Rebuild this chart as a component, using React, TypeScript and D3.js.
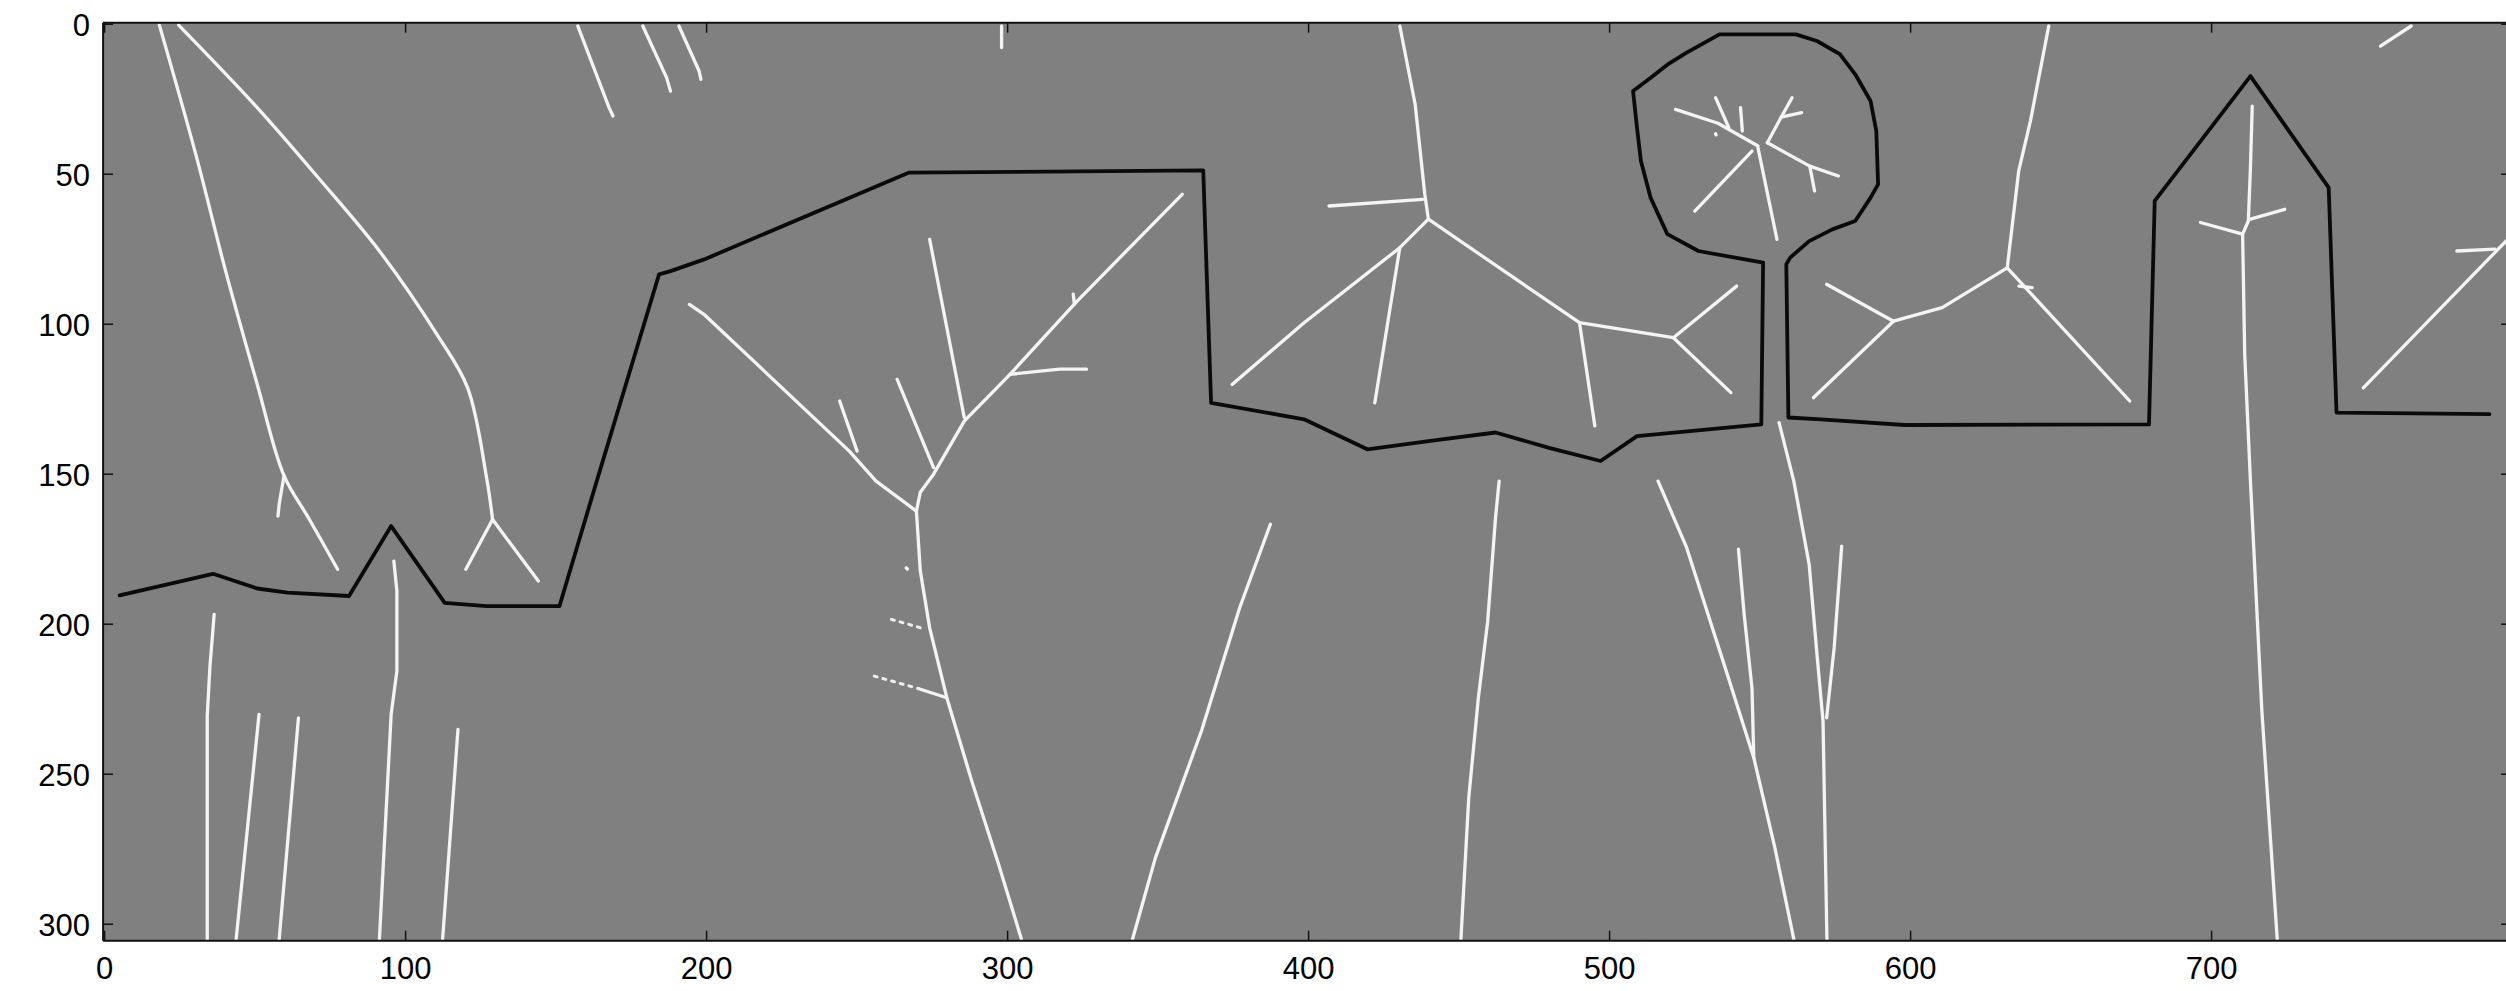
import React from "react";
import * as d3 from "d3";

type P = [number, number];

// ---- tick labels ----
const xTicks = [0, 100, 200, 300, 400, 500, 600, 700];
const yTicks = [0, 50, 100, 150, 200, 250, 300];

// ---- image extent (pixels) ----
const imgWidth = 800;
const imgHeight = 306;

// ---- black outline (skyline) ----
const blackOutline: P[] = [
  [5, 190.4], [36, 183.2], [50.7, 188.1], [60.8, 189.5], [81.2, 190.6], [95.2, 167.3],
  [113, 192.9], [127, 194], [151.1, 194], [163.5, 152.3], [176.5, 109], [184.2, 83.4],
  [188, 82.3], [199.2, 78.4], [267.1, 49.5], [365, 48.7], [365.7, 70], [367.6, 126.2],
  [398.5, 131.7], [419.5, 141.7], [440.5, 138.9], [462.1, 136.1], [479.9, 141.2],
  [497, 145.6], [509.1, 137.3], [550.4, 133.4], [551, 79.5], [529.5, 75.6], [519.2, 70],
  [513.6, 57.8], [510.4, 45.6], [509.1, 34.5], [507.8, 22.3], [512.9, 18.4], [519.3, 13.4],
  [525.6, 9.5], [536.5, 3.4], [561.9, 3.4], [568.9, 5.6], [576.5, 10], [581.6, 16.7],
  [586.7, 25.6], [588.6, 35.6], [589.2, 53.4], [586.7, 57.8], [581.6, 65.6], [574, 68.4],
  [566.3, 72.3], [560, 77.8], [558.7, 80], [559.4, 131.1], [570.2, 131.7], [598, 133.6],
  [679.2, 133.4], [681.1, 58.9], [712.9, 17.3], [738.9, 54.5], [741.5, 129.5], [792.3, 130],
];

// ---- white strokes: left grass / leaves (smooth curves) ----
const leafA: P[] = [[18.2, 0.3], [30.3, 43.4], [40.5, 83.4], [50.7, 120], [59.6, 150.5], [68, 165], [77.4, 181.7]];
const leafB: P[] = [[24.6, 0.3], [50.7, 27.8], [71.0, 51.2], [91.3, 75.6], [110.4, 103.4], [120.6, 121.2], [126.9, 151.2], [128.9, 165.1]];

// ---- other white strokes ----
const leafAStub: P[] = [[59.6, 150.5], [58, 160], [57.6, 164]];
const leafBLeft: P[] = [[128.9, 165.1], [120, 181.7]];
const leafBRight: P[] = [[128.9, 165.1], [144.1, 185.6]];
const topShortC: P[] = [[157.2, 0.6], [167.6, 27.8], [168.9, 30.6]];
const topShortD: P[] = [[178.8, 0.6], [186.7, 17.8], [188, 22.3]];
const topShortE: P[] = [[190.8, 0.6], [197.5, 15.6], [198.1, 18.4]];
const topStub: P[] = [[298, 0.6], [298, 7.8]];

// ---- bottom-left verticals ----
const grass1: P[] = [[36.4, 196.7], [35, 214], [34.1, 230.6], [34.1, 305]];
const grass2: P[] = [[51.3, 230.1], [43.7, 305]];
const grass3: P[] = [[64.4, 231.2], [58, 305]];
const grass4: P[] = [[96.1, 179], [97.1, 189], [97.1, 215.6], [95.2, 230], [91.3, 305]];
const grass5: P[] = [[117.4, 235.1], [112.3, 305]];

// ---- big tree in middle-left ----
const treeLeft: P[] = [[194.3, 93.4], [199.1, 96.7], [247.4, 142.3], [256.3, 152.3], [269.7, 162.3]];
const treeSub1: P[] = [[244.2, 125.6], [250, 142.3]];
const treeSub2: P[] = [[263.3, 118.4], [275.4, 147.8]];
const treeSub3: P[] = [[274.1, 71.7], [285.6, 131.1]];
const treeRight: P[] = [[358, 56.7], [323.1, 92.3], [300.8, 116.7], [285.6, 132.3], [275.4, 150], [271, 156], [269.7, 162.3]];
const treeTick: P[] = [[321.8, 90], [322.2, 93.4]];
const treeHoriz: P[] = [[300.8, 116.7], [317.3, 115], [326.2, 115]];
const treeTrunk: P[] = [[269.7, 162.3], [271, 182.3], [274.1, 201.2], [279.8, 224.5], [288.1, 252.3], [297, 280], [304.6, 305]];
const trunkSideSolid: P[] = [[270.5, 221.5], [279.8, 224.5]];
const trunkSideDots1: P[] = [[261.4, 198.4], [272.8, 201.7]];
const trunkSideDots2: P[] = [[255.7, 217.3], [270.5, 221.5]];
const trunkDot: P[] = [[266.3, 181.2], [266.7, 181.6]];
const slantRight: P[] = [[387.3, 166.7], [377.1, 194.5], [364.4, 235.6], [349.1, 277.9], [341.5, 305]];

// ---- tree in middle ----
const midTop: P[] = [[430.3, 0.6], [435.4, 26.7], [438.6, 56.7], [439.8, 65]];
const midHoriz: P[] = [[406.8, 60.6], [437.9, 58.4]];
const midLeft: P[] = [[439.8, 65], [430.3, 74.5], [398.5, 99.5], [374.6, 120.1]];
const midLeftDown: P[] = [[430.3, 74.5], [422, 126.2]];
const midRight: P[] = [[439.8, 65], [490, 99.5], [521.2, 104.5]];
const midRightUp: P[] = [[521.2, 104.5], [542.2, 87.3]];
const midRightDown: P[] = [[521.2, 104.5], [540.3, 122.8]];
const midDown: P[] = [[490, 99.5], [495.1, 133.9]];

// ---- tree inside the circle ----
const crownA: P[] = [[521.9, 28.4], [536, 33], [549.3, 40.6]];
const crownB: P[] = [[535.2, 24.5], [539.6, 34.5]];
const crownC: P[] = [[543.5, 27.8], [544.1, 35.6]];
const crownD: P[] = [[552.4, 39.5], [557, 31], [560.6, 24.5]];
const crownDFork: P[] = [[557, 31], [563.8, 29.5]];
const crownE: P[] = [[547.3, 42.3], [528.3, 62.3]];
const crownF: P[] = [[549.3, 41.2], [555.6, 71.7]];
const crownG: P[] = [[552.4, 39.5], [566.5, 47.3], [576, 50.6]];
const crownGFork: P[] = [[566.5, 47.3], [568.1, 55.6]];
const crownDot: P[] = [[535.2, 36.5], [535.4, 36.9]];

// ---- right-middle tree ----
const rightTreeTop: P[] = [[645.9, 0.6], [639.8, 32.3], [635.9, 49], [632.1, 81.2]];
const rightTreeLeft: P[] = [[632.1, 81.2], [610.5, 94.5], [594.3, 99]];
const rightTreeUp: P[] = [[594.3, 99], [572.1, 86.7]];
const rightTreeDown: P[] = [[594.3, 99], [567.7, 124.5]];
const rightTreeRight: P[] = [[632.1, 81.2], [672.8, 125.6]];
const rightTreeStub: P[] = [[636, 87.3], [640.4, 87.8]];

// ---- lower middle strokes ----
const lowL1: P[] = [[463.3, 152.3], [462.1, 164.5], [459.5, 199], [456.4, 224.5], [453.2, 257.9], [450.6, 305]];
const lowL2: P[] = [[516.1, 152.3], [525.6, 174.5], [538.4, 214.5], [547.9, 244.5], [554.9, 274.5], [561.2, 305]];
const lowL3: P[] = [[542.8, 175], [544.7, 196.7], [547.3, 221.2], [547.9, 244.5]];
const lowL4: P[] = [[556.3, 132.8], [561.2, 152.3], [566.3, 180.1], [568.9, 210.1], [570.9, 232.3], [572.2, 305]];
const lowL5: P[] = [[577.1, 174], [576.5, 182.3], [574.6, 207.9], [572.1, 231.2]];

// ---- house / spire on the right ----
const spire: P[] = [[713.5, 27.3], [712.9, 47.8], [712.2, 65.6], [710.3, 70], [711, 110], [712.9, 152.3], [716.7, 229], [721.8, 305]];
const spireLeft: P[] = [[710.3, 70], [696.3, 66.1]];
const spireRight: P[] = [[712.9, 65], [724.3, 61.7]];
const farRight: P[] = [[750.4, 121.2], [786, 84.5], [800, 70]];
const farRightHoriz: P[] = [[781.5, 75.6], [794.2, 75]];
const farTop: P[] = [[756.1, 7.3], [766.3, 0.6]];

const curvedStrokes: P[][] = [leafA, leafB];
const whiteStrokes: P[][] = [
  leafAStub, leafBLeft, leafBRight, topShortC, topShortD, topShortE, topStub,
  grass1, grass2, grass3, grass4, grass5,
  treeLeft, treeSub1, treeSub2, treeSub3, treeRight, treeTick, treeHoriz, treeTrunk, trunkSideSolid, trunkDot, slantRight,
  midTop, midHoriz, midLeft, midLeftDown, midRight, midRightUp, midRightDown, midDown,
  crownA, crownB, crownC, crownD, crownDFork, crownE, crownF, crownG, crownGFork, crownDot,
  rightTreeTop, rightTreeLeft, rightTreeUp, rightTreeDown, rightTreeRight, rightTreeStub,
  lowL1, lowL2, lowL3, lowL4, lowL5,
  spire, spireLeft, spireRight, farRight, farRightHoriz, farTop,
];
const dottedStrokes: P[][] = [trunkSideDots1, trunkSideDots2];

export default function App() {
  const W = 2506;
  const H = 991;
  const x = d3.scaleLinear().domain([-0.5, imgWidth - 0.5]).range([103.1, 103.1 + imgWidth * 3.01]);
  const y = d3.scaleLinear().domain([-0.5, imgHeight - 0.5]).range([22.7, 22.7 + imgHeight * 3.0]);
  const line = d3.line<P>().x((d) => x(d[0])).y((d) => y(d[1]));
  const curve = d3.line<P>().x((d) => x(d[0])).y((d) => y(d[1])).curve(d3.curveCatmullRom.alpha(0.5));
  const x0 = x(-0.5), x1 = x(imgWidth - 0.5), y0 = y(-0.5), y1 = y(imgHeight - 0.5);
  const font = "'Liberation Sans', Arial, Helvetica, sans-serif";
  const tl = 10;
  const white = { fill: "none", stroke: "#f4f4f4", strokeWidth: 3.3, strokeLinejoin: "round" as const, strokeLinecap: "round" as const };
  return (
    <svg width={W} height={H} style={{ position: "fixed", left: 0, top: 0, background: "#fff" }}>
      <defs>
        <clipPath id="img">
          <rect x={x0} y={y0} width={x1 - x0} height={y1 - y0} />
        </clipPath>
      </defs>
      <rect x={0} y={0} width={W} height={H} fill="#fff" />
      <g clipPath="url(#img)">
        <rect x={x0} y={y0} width={x1 - x0} height={y1 - y0} fill="#808080" />
        <path d={line(blackOutline) || ""} fill="none" stroke="#0a0a0a" strokeWidth={3.8} strokeLinejoin="round" strokeLinecap="round" />
        {curvedStrokes.map((s, i) => (
          <path key={"c" + i} d={curve(s) || ""} {...white} />
        ))}
        {whiteStrokes.map((s, i) => (
          <path key={i} d={line(s) || ""} {...white} />
        ))}
        {dottedStrokes.map((s, i) => (
          <path key={"d" + i} d={line(s) || ""} fill="none" stroke="#eeeeee" strokeWidth={3} strokeDasharray="3 6" strokeLinecap="round" />
        ))}
      </g>
      {/* frame */}
      <g stroke="#111" strokeWidth={2} fill="none">
        <line x1={x0} y1={y0} x2={x1} y2={y0} />
        <line x1={x0} y1={y1} x2={x1} y2={y1} />
        <line x1={x0} y1={y0} x2={x0} y2={y1} />
        <line x1={x1} y1={y0} x2={x1} y2={y1} />
      </g>
      <g stroke="#111" strokeWidth={1.5}>
        {xTicks.map((t) => (
          <g key={"xt" + t}>
            <line x1={x(t)} x2={x(t)} y1={y1} y2={y1 - tl} />
            <line x1={x(t)} x2={x(t)} y1={y0} y2={y0 + tl} />
          </g>
        ))}
        {yTicks.map((t) => (
          <g key={"yt" + t}>
            <line x1={x0} x2={x0 + tl} y1={y(t)} y2={y(t)} />
            <line x1={x1} x2={x1 - tl} y1={y(t)} y2={y(t)} />
          </g>
        ))}
      </g>
      <g fontFamily={font} fontSize={31} fill="#000">
        {xTicks.map((t) => (
          <text key={"xl" + t} x={x(t)} y={y1 + 38} textAnchor="middle">{t}</text>
        ))}
        {yTicks.map((t) => (
          <text key={"yl" + t} x={90} y={y(t) + 12} textAnchor="end">{t}</text>
        ))}
      </g>
    </svg>
  );
}
